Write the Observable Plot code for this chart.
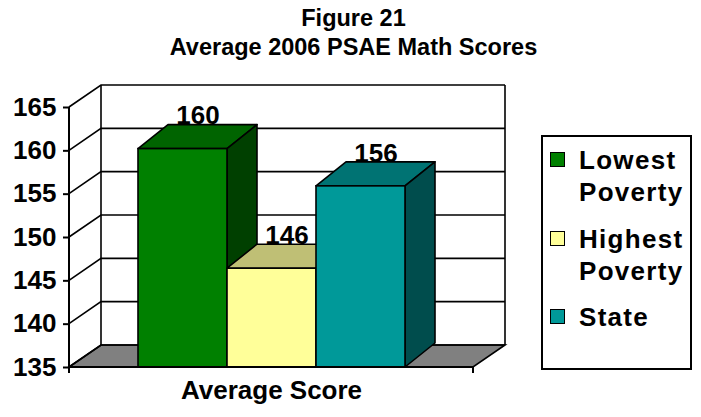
<!DOCTYPE html>
<html>
<head>
<meta charset="utf-8">
<script src="https://cdn.jsdelivr.net/npm/d3@7"></script>
<script src="https://cdn.jsdelivr.net/npm/@observablehq/plot@0.6"></script>
<style>
  body { margin: 0; background: #fff; }
  #chart { position: relative; width: 701px; height: 417px; overflow: hidden;
           font-family: "Liberation Sans", Arial, sans-serif; background: #fff; }
  #title { position: absolute; left: 3px; top: 4px; width: 701px; text-align: center;
           font-weight: bold; font-size: 23.5px; line-height: 29px; color: #000; }
  #plot { position: absolute; left: 0; top: 0; }
  #legend { position: absolute; left: 541px; top: 135px; width: 151px; height: 235px;
            border: 2px solid #000; box-sizing: border-box; padding: 7px 0 0 7px;
            display: flex; flex-direction: column; gap: 14.5px; background: #fff; }
  .item { display: flex; align-items: flex-start; }
  .sw { width: 13px; height: 13px; border: 1.5px solid #000; margin-top: 8px; margin-right: 14px; flex: none; }
  .lab { font-weight: bold; font-size: 26px; line-height: 32px; letter-spacing: 1.3px; width: 115px; color: #000; }
</style>
</head>
<body>
<div id="chart">
  <div id="title"></div>
  <div id="plot"></div>
  <div id="legend"></div>
</div>
<script>
// ---- data ----
const titleLines = ["Figure 21", "Average 2006 PSAE Math Scores"];
const series = ["Lowest Poverty", "Highest Poverty", "State"];
const values = [160.2, 146.4, 155.9];
const valueLabels = ["160", "146", "156"];
const frontColors = ["#008000", "#FFFF99", "#009999"];
const topColors = ["#006400", "#BFBF75", "#007373"];
const sideColors = ["#004000", "#80804D", "#004D4D"];
const yTicks = [135, 140, 145, 150, 155, 160, 165];
const xTitle = "Average Score";

// ---- styles (3-D depth offsets) ----
const WX = 32, WY = -22;   // walls
const BX = 30, BY = -24;   // bars

const data = series.map((s, i) => ({series: s, value: values[i], label: valueLabels[i],
  front: frontColors[i], top: topColors[i], side: sideColors[i]}));

document.getElementById("title").innerHTML = titleLines.join("<br>");

function info(scales) {
  const X = scales.x, Y = scales.y;
  const fx = typeof X === "function" ? X : (v) => X.apply(v);
  const fy = typeof Y === "function" ? Y : (v) => Y.apply(v);
  const bw = typeof X.bandwidth === "function" ? X.bandwidth() : X.bandwidth;
  return {fx, fy, bw};
}

const walls = Plot.ruleY(yTicks, {
  render(index, scales, vals, dim) {
    const {fy} = info(scales);
    const x0 = dim.marginLeft, x1 = dim.width - dim.marginRight;
    const y0 = fy(yTicks[0]), yT = fy(yTicks[yTicks.length - 1]);
    const g = d3.create("svg:g").attr("fill", "none").attr("stroke", "#000").attr("stroke-width", 1.6);
    g.append("path")
      .attr("d", `M${x0},${y0}L${x1},${y0}L${x1 + WX},${y0 + WY}L${x0 + WX},${y0 + WY}Z`)
      .attr("fill", "#808080");
    for (const t of yTicks) {
      const y = fy(t);
      g.append("path").attr("d", `M${x0},${y}L${x0 + WX},${y + WY}L${x1 + WX},${y + WY}`);
    }
    g.append("path").attr("d", `M${x0 + WX},${yT + WY}V${y0 + WY}`);
    g.append("path").attr("d", `M${x1 + WX},${yT + WY}V${y0 + WY}`);
    return g.node();
  }
});

const faces = Plot.barY(data, {
  x: "series", y1: () => yTicks[0], y2: "value",
  render(index, scales, vals, dim) {
    const {fx, fy, bw} = info(scales);
    const g = d3.create("svg:g").attr("stroke", "#000").attr("stroke-width", 1.6).attr("stroke-linejoin", "round");
    const yb = fy(yTicks[0]);
    for (const i of index) {
      const d = data[i];
      const xa = fx(d.series), xb = xa + bw, yt = fy(d.value);
      g.append("path").attr("fill", d.top)
        .attr("d", `M${xa},${yt}L${xb},${yt}L${xb + BX},${yt + BY}L${xa + BX},${yt + BY}Z`);
      g.append("path").attr("fill", d.side)
        .attr("d", `M${xb},${yt}L${xb + BX},${yt + BY}L${xb + BX},${yb + BY}L${xb},${yb}Z`);
    }
    return g.node();
  }
});

const frontAxes = Plot.ruleY([yTicks[0]], {
  render(index, scales, vals, dim) {
    const {fy} = info(scales);
    const x0 = dim.marginLeft, x1 = dim.width - dim.marginRight;
    const y0 = fy(yTicks[0]), yT = fy(yTicks[yTicks.length - 1]);
    const g = d3.create("svg:g").attr("fill", "none").attr("stroke", "#000").attr("stroke-width", 2);
    g.append("path").attr("d", `M${x0},${yT}V${y0}H${x1}`);
    g.append("path").attr("d", `M${x0},${y0}v6M${x1},${y0}v6`);
    return g.node();
  }
});

const plot = Plot.plot({
  width: 701,
  height: 417,
  marginLeft: 69,
  marginRight: 228,
  marginTop: 107,
  marginBottom: 50,
  style: {fontFamily: '"Liberation Sans", Arial, sans-serif', background: "transparent", overflow: "visible"},
  x: {domain: series, paddingInner: 0, paddingOuter: 0.745, axis: null},
  y: {domain: [yTicks[0], yTicks[yTicks.length - 1]], axis: null},
  marks: [
    walls,
    faces,
    Plot.barY(data, {x: "series", y1: () => yTicks[0], y2: "value", fill: (d) => d.front,
      stroke: "#000", strokeWidth: 1.6, inset: 0}),
    frontAxes,
    Plot.axisY({ticks: yTicks, tickSize: 6, tickPadding: 7, tickFormat: (d) => String(d),
      fontSize: 26, fontWeight: "bold", color: "#000", strokeWidth: 2, label: null}),
    Plot.text(data, {x: "series", y: "value", text: "label", dx: 15, dy: -33,
      fontSize: 26, fontWeight: "bold", fill: "#000", letterSpacing: 1}),
    Plot.text([xTitle], {frameAnchor: "bottom", dy: 31.5, text: (d) => d,
      fontSize: 26, fontWeight: "bold", fill: "#000", letterSpacing: 1.6})
  ]
});
document.getElementById("plot").appendChild(plot);

const legend = d3.select("#legend");
data.forEach((d) => {
  const it = legend.append("div").attr("class", "item");
  it.append("div").attr("class", "sw").style("background", d.front);
  it.append("div").attr("class", "lab").text(d.series);
});
</script>
</body>
</html>
